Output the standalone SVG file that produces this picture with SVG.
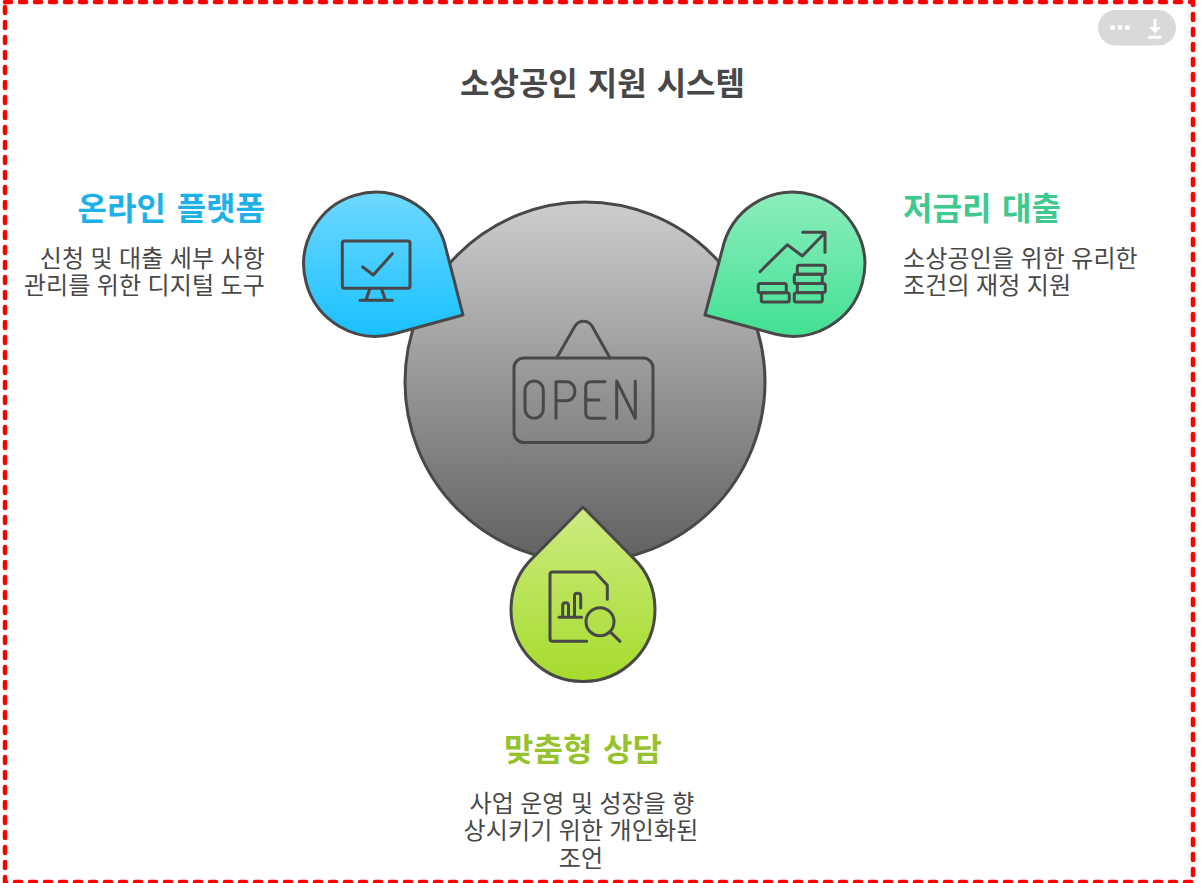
<svg xmlns="http://www.w3.org/2000/svg" width="1203" height="883" viewBox="0 0 1203 883">
<style>
.shape{stroke:#484848;stroke-width:3;stroke-linejoin:round}
.icon{fill:none;stroke:#484848;stroke-width:3;stroke-linecap:round;stroke-linejoin:round}
text{font-family:"Noto Sans CJK KR","Noto Sans",sans-serif}
.title{font-size:32px;font-weight:700;fill:#484848;word-spacing:2.750px}
.head{font-size:32px;font-weight:700;word-spacing:3.500px}
.body{font-size:24px;fill:#484848;word-spacing:.750px;letter-spacing:.150px}
</style>
<defs>
<linearGradient id="gc" x1="0" y1="0" x2="0" y2="1"><stop offset="0" stop-color="#cdcdcd"/><stop offset="1" stop-color="#606060"/></linearGradient>
<linearGradient id="gb" x1="0" y1="0" x2="0" y2="1"><stop offset="0" stop-color="#6fd9ff"/><stop offset="1" stop-color="#19c0ff"/></linearGradient>
<linearGradient id="gg" x1="0" y1="0" x2="0" y2="1"><stop offset="0" stop-color="#8deebd"/><stop offset="1" stop-color="#42e093"/></linearGradient>
<linearGradient id="gl" x1="0" y1="0" x2="0" y2="1"><stop offset="0" stop-color="#cdeb82"/><stop offset="1" stop-color="#a6db2c"/></linearGradient>
</defs>
<rect width="1203" height="883" fill="#ffffff"/>
<rect x="1188" y="0" width="4" height="883" fill="#f6f6f6"/>
<rect x="5" y="2" width="1188" height="880" fill="none" stroke="#ff0000" stroke-width="4.500" stroke-dasharray="6 9" stroke-linecap="round"/>
<text class="title" x="602.500" y="95" text-anchor="middle">소상공인 지원 시스템</text>
<g id="menu">
<rect x="1098" y="10" width="78" height="35.500" rx="17.750" fill="#d9d9d9"/>
<circle cx="1112.700" cy="27.500" r="2.500" fill="#fff"/><circle cx="1120" cy="27.500" r="2.500" fill="#fff"/><circle cx="1127.300" cy="27.500" r="2.500" fill="#fff"/>
<path d="M1153.500 19h3v8h4.500l-6 6.500-6-6.500h4.500z" fill="#fff"/>
<rect x="1148" y="35.800" width="13.500" height="3" rx="1.500" fill="#fff"/>
</g>
<g id="connectors"></g>
<g id="node-center">
<circle class="shape" cx="585" cy="382" r="180" fill="url(#gc)"/>
<g class="icon">
<rect x="514" y="358" width="139" height="84.500" rx="10"/>
<path d="M556.700 358L575 326C579 319.500 588 319.500 592 326L610 358"/>
<rect x="525" y="381" width="18.300" height="37.300" rx="9"/>
<path d="M556 418.300V381.700H566C571.500 381.700 575 386 575 391.200C575 396.500 571.500 400.700 566 400.700H556"/>
<path d="M605 381.700H591C587.500 381.700 585.700 383.500 585.700 387V413C585.700 416.500 587.500 418.300 591 418.300H605M585.700 400H599"/>
<path d="M616.700 418.300V381L635.300 418.300V381"/>
</g>
</g>
<g id="node-online">
<path class="shape" d="M463 315L444.500 243A72 72 0 1 0 393.500 334Z" fill="url(#gb)"/>
<g class="icon">
<rect x="342.300" y="241" width="67.700" height="47.300" rx="2"/>
<path d="M370 288.300L366 300M381.300 288.300L385.300 300M360 300.300H392.300M362.700 267L373.300 275L392.300 253.700"/>
</g>
<text class="head" x="265" y="220" text-anchor="end" fill="#1eb1e8">온라인 플랫폼</text>
<text class="body" x="265" y="267" text-anchor="end">신청 및 대출 세부 사항</text>
<text class="body" x="265" y="294" text-anchor="end">관리를 위한 디지털 도구</text>
</g>
<g id="node-loan">
<path class="shape" d="M705 315L724 243A72 72 0 1 1 775 334Z" fill="url(#gg)"/>
<g class="icon">
<path d="M760 271.700L787.300 244.700L802.300 256L825 232.700M802.700 232.300H825V252.300"/>
<rect x="797.300" y="265.300" width="28" height="9" rx="2"/>
<rect x="794.300" y="274.300" width="28" height="9.300" rx="2"/>
<rect x="797.300" y="283.600" width="28" height="9" rx="2"/>
<rect x="794.300" y="292.700" width="28" height="9.300" rx="2"/>
<rect x="758.300" y="283.400" width="28" height="9.300" rx="2"/>
<rect x="761.300" y="292.700" width="28" height="9.300" rx="2"/>
</g>
<text class="head" x="903" y="220" fill="#3fc98f">저금리 대출</text>
<text class="body" x="903" y="267">소상공인을 위한 유리한</text>
<text class="body" x="903" y="294">조건의 재정 지원</text>
</g>
<g id="node-consult">
<path class="shape" d="M583 507L633 557.700A72 72 0 1 1 533 557.700Z" fill="url(#gl)"/>
<g class="icon">
<path d="M586.700 641.300H552.500Q550 641.300 550 638.800V574.500Q550 572 552.500 572H595L607.300 585.300V599.300"/>
<path d="M559 617.300H581.700M562.700 617.300V605.500Q562.700 602.700 565.500 602.700Q568.500 602.700 568.500 605.500V617.300M574.500 617.300V596Q574.500 593.300 577.500 593.300Q580.700 593.300 580.700 596V608"/>
<circle cx="600" cy="621.700" r="14"/>
<path d="M610 631.700L620 641.300"/>
</g>
<text class="head" x="583" y="761" text-anchor="middle" fill="#96c22e">맞춤형 상담</text>
<text class="body" x="582" y="812" text-anchor="middle">사업 운영 및 성장을 향</text>
<text class="body" x="581" y="839" text-anchor="middle">상시키기 위한 개인화된</text>
<text class="body" x="581" y="867" text-anchor="middle">조언</text>
</g>
</svg>
